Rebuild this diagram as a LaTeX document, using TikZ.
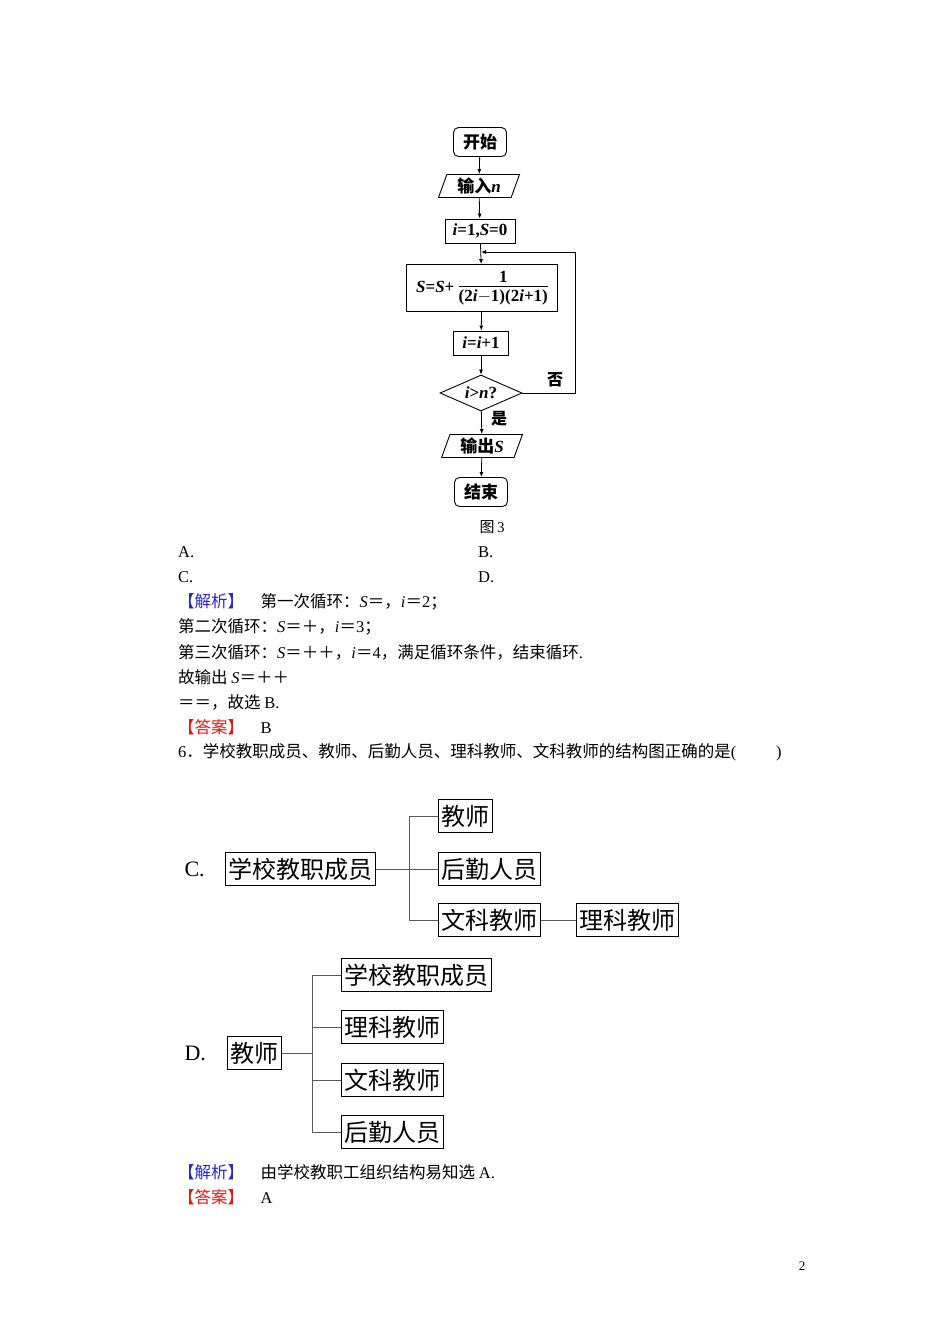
\documentclass[tikz,border=0pt]{standalone}
\usepackage{fontspec}
\setmainfont{Liberation Serif}
\newfontfamily\cjk{Noto Sans CJK SC}
\newcommand\RI[1]{{\rmfamily\itshape #1}}
\newcommand\RR[1]{{\rmfamily #1}}
\usetikzlibrary{shapes.geometric,arrows.meta}
\definecolor{jblue}{RGB}{40,40,200}
\definecolor{jred}{RGB}{230,20,20}
\begin{document}
\begin{tikzpicture}[x=1pt,y=-1pt,
  fc/.style={draw,line width=0.9pt,font=\fontsize{17}{19}\selectfont\bfseries,inner sep=0pt},
  rbox/.style={fc,rounded corners=5pt,minimum width=53pt,minimum height=29pt},
  pbox/.style={fc,trapezium,trapezium left angle=70,trapezium right angle=110,minimum height=23pt,inner xsep=1pt},
  sbox/.style={fc,minimum height=24pt,inner xsep=3pt},
  arr/.style={-{Latex[length=5pt,width=4pt]},line width=0.8pt},
  tb/.style={draw,line width=0.8pt,font=\cjk\fontsize{24}{26}\selectfont,inner xsep=3pt,minimum height=33pt,anchor=west},
  ln/.style={line width=0.6pt,draw=gray!70!black},
  body/.style={anchor=west,font=\cjk\fontsize{16.5}{18}\selectfont,inner sep=0pt}]
\useasboundingbox (0,0) rectangle (950,1344);
% flowchart
\node[rbox] (st) at (480,142) {\cjk 开始};
\node[pbox] (in) at (479,186) {\cjk 输入\RI{n}};
\node[sbox,minimum width=70pt] (ini) at (480,231) {\textit{i}=1,\textit{S}=0};
\node[sbox,minimum width=151pt,minimum height=47pt] (ss) at (482,288) {\textit{S}=\textit{S}+\ \begin{tabular}{@{}c@{}}1\\[-2pt]\hline\rule{0pt}{15pt}(2\textit{i}$-$1)(2\textit{i}+1)\end{tabular}};
\node[sbox,minimum width=55pt] (inc) at (481,343) {\textit{i}=\textit{i}+1};
\node[fc,diamond,aspect=2.3,minimum width=82pt,minimum height=36pt] (dec) at (481,393) {\textit{i}>\textit{n}?};
\node[pbox] (out) at (482,446) {\cjk 输出\RI{S}};
\node[rbox] (en) at (481,492) {\cjk 结束};
\coordinate (j) at (481,252);
\coordinate (r1) at (575,393);
\coordinate (r2) at (575,252);
\draw[arr] (st) -- (in);
\draw[arr] (in) -- (ini);
\draw[arr] (ini) -- (ss);
\draw[arr] (ss) -- (inc);
\draw[arr] (inc) -- (dec);
\draw[arr] (dec) -- (out);
\draw[arr] (out) -- (en);
\draw[arr] (dec.east) -- (r1) -- (r2) -- (j);
\node[font=\cjk\fontsize{16}{18}\selectfont\bfseries] (no) at (555,380) {否};
\node[font=\cjk\fontsize{16}{18}\selectfont\bfseries] (yes) at (499,419) {是};
\node[font=\cjk\fontsize{15}{17}\selectfont] (fig) at (492,527) {图\,\RR{3}};
% text
\node[body] (ta) at (178,552) {\RR{A.}};
\node[body] (tb2) at (478,552) {\RR{B.}};
\node[body] (tc) at (178,577) {\RR{C.}};
\node[body] (td) at (478,577) {\RR{D.}};
\node[body] (l1) at (178,602) {\textcolor{jblue}{【解析】}\quad 第一次循环：\RI{S}＝，\RI{i}＝\RR{2}；};
\node[body] (l2) at (178,627) {第二次循环：\RI{S}＝＋，\RI{i}＝\RR{3}；};
\node[body] (l3) at (178,652) {第三次循环：\RI{S}＝＋＋，\RI{i}＝\RR{4}，满足循环条件，结束循环\RR{.}};
\node[body] (l4) at (178,677) {故输出 \RI{S}＝＋＋};
\node[body] (l5) at (178,702) {＝＝，故选 \RR{B.}};
\node[body] (l6) at (178,727) {\textcolor{jred}{【答案】}\quad \RR{B}};
\node[body] (l7) at (178,752) {\RR{6}．学校教职成员、教师、后勤人员、理科教师、文科教师的结构图正确的是\RR{(}\hspace{2.4em}\RR{)}};
% structure C
\node[font=\fontsize{22}{24}\selectfont,anchor=west] (cl) at (181,869) {C.};
\node[tb] (c0) at (225,869) {学校教职成员};
\node[tb] (c1) at (438,816) {教师};
\node[tb] (c2) at (438,869) {后勤人员};
\node[tb] (c3) at (438,920) {文科教师};
\node[tb] (c4) at (576,920) {理科教师};
\draw[ln] (c0.east) -- (c2.west);
\draw[ln] (c1.west) -| (409,920) -- (c3.west);
\draw[ln] (c3.east) -- (c4.west);
% structure D
\node[font=\fontsize{22}{24}\selectfont,anchor=west] (dl) at (181,1053) {D.};
\node[tb] (d0) at (227,1053) {教师};
\node[tb] (d1) at (341,975) {学校教职成员};
\node[tb] (d2) at (341,1027) {理科教师};
\node[tb] (d3) at (341,1080) {文科教师};
\node[tb] (d4) at (341,1132) {后勤人员};
\draw[ln] (d1.west) -| (312,1132) -- (d4.west);
\draw[ln] (d0.east) -- (312,1053);
\draw[ln] (312,1027) -- (d2.west);
\draw[ln] (312,1080) -- (d3.west);
\node[body] (m1) at (178,1172) {\textcolor{jblue}{【解析】}\quad 由学校教职工组织结构易知选 \RR{A.}};
\node[body] (m2) at (178,1197) {\textcolor{jred}{【答案】}\quad \RR{A}};
\node[font=\fontsize{13}{15}\selectfont] (pg) at (802,1266) {2};
\end{tikzpicture}
\end{document}
